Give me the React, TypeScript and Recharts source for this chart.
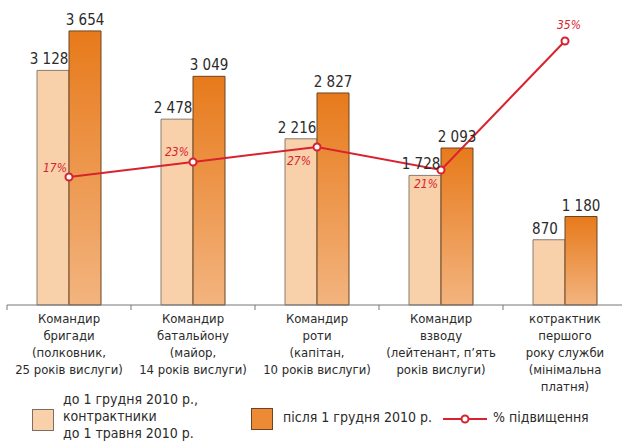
import React from 'react';
import { ComposedChart, Bar, Line, XAxis, YAxis, LabelList } from 'recharts';

const categories: string[][] = [
  ['Командир', 'бригади', '(полковник,', '25 років вислуги)'],
  ['Командир', 'батальйону', '(майор,', '14 років вислуги)'],
  ['Командир', 'роти', '(капітан,', '10 років вислуги)'],
  ['Командир', 'взводу', '(лейтенант, п’ять', 'років вислуги)'],
  ['котрактник', 'першого', 'року служби', '(мінімальна', 'платня)'],
];
const beforeValues = [3128, 2478, 2216, 1728, 870];
const afterValues = [3654, 3049, 2827, 2093, 1180];
const raisePct = [17, 23, 27, 21, 35];
// plotted height of the percentage line, in bar-axis units
const lineLevel = [1707, 1907, 2107, 1800, 3520];

const legendBefore = ['до 1 грудня 2010 р.,', 'контрактники', 'до 1 травня 2010 р.'];
const legendAfter = 'після 1 грудня 2010 р.';
const legendLine = '% підвищення';

const data = categories.map((c, i) => ({
  key: String(i),
  before: beforeValues[i],
  after: afterValues[i],
  level: lineLevel[i],
  pct: raisePct[i],
}));

const W = 622;
const H = 442;
const AXIS_H = 100;
const M = { top: 5, right: -5, left: 7, bottom: 442 - 305 - AXIS_H };
const HALF_BAND = (W - M.left - M.right) / categories.length / 2;
const FONT = '"Liberation Sans Narrow", "DejaVu Sans Condensed", "Roboto Condensed", Arial, sans-serif';
const TEXT = '#2b2b2b';
const RED = '#d8232f';

const fmt = (n: number) => String(n).replace(/\B(?=(\d{3})+(?!\d))/g, ' ');

const pctOffsets = [
  { dx: -14, dy: -5 },
  { dx: -16, dy: -6 },
  { dx: -18, dy: 18 },
  { dx: -15, dy: 18 },
  { dx: 4, dy: -12 },
];

const Tick = (props: any) => {
  const { x, y, payload, index } = props;
  const lines = categories[Number(payload.value)] || [];
  return (
    <g>
      <line x1={x - HALF_BAND} x2={x - HALF_BAND} y1={y - 8} y2={y - 3} stroke="#777" />
      {index === categories.length - 1 && (
        <line x1={x + HALF_BAND} x2={x + HALF_BAND} y1={y - 8} y2={y - 3} stroke="#777" />
      )}
      <text x={x} y={y} textAnchor="middle" fontFamily={FONT} fontSize={13} fill={TEXT}>
        {lines.map((l, i) => (
          <tspan key={i} x={x} dy={i === 0 ? 10 : 17}>
            {l}
          </tspan>
        ))}
      </text>
    </g>
  );
};

const valueLabel = (shift: number) => (props: any) => {
  const { x, y, width, value } = props;
  return (
    <text x={x + width / 2 + shift} y={y - 6} textAnchor="middle" fontFamily={FONT} fontSize={15} fill={TEXT}>
      {fmt(value)}
    </text>
  );
};

const PctLabel = (props: any) => {
  const { x, y, index, value } = props;
  const o = pctOffsets[index] || { dx: 0, dy: -8 };
  return (
    <text x={x + o.dx} y={y + o.dy} textAnchor="middle" fontFamily={FONT} fontSize={12} fontStyle="italic" fill={RED}>
      {value}%
    </text>
  );
};

const LegendBlock = () => (
  <div style={{ position: 'absolute', left: 0, top: 395, width: W, height: 47, fontFamily: FONT, fontSize: 14, color: TEXT }}>
    <div style={{ position: 'absolute', left: 32, top: 14, width: 22, height: 22, background: '#f8d0aa', border: '1px solid #7d6d62', boxSizing: 'border-box' }} />
    <div style={{ position: 'absolute', left: 63, top: -4, lineHeight: '17px', whiteSpace: 'nowrap' }}>
      {legendBefore.map((l, i) => (
        <div key={i}>{l}</div>
      ))}
    </div>
    <div style={{ position: 'absolute', left: 251, top: 13, width: 22, height: 22, background: '#ec8a35', border: '1px solid #6b4423', boxSizing: 'border-box' }} />
    <div style={{ position: 'absolute', left: 283, top: 14, lineHeight: '17px', whiteSpace: 'nowrap' }}>{legendAfter}</div>
    <svg style={{ position: 'absolute', left: 440, top: 14 }} width={50} height={20}>
      <line x1={3} x2={47} y1={10} y2={10} stroke={RED} strokeWidth={2} />
      <circle cx={25} cy={10} r={3.5} fill="#fff" stroke={RED} strokeWidth={2} />
    </svg>
    <div style={{ position: 'absolute', left: 493, top: 14, lineHeight: '17px', whiteSpace: 'nowrap' }}>{legendLine}</div>
  </div>
);

export default function App() {
  return (
    <div style={{ position: 'absolute', left: 0, top: 0, width: W, height: H, background: '#fff', overflow: 'hidden' }}>
      <ComposedChart width={W} height={H} data={data} margin={M} barGap={0} barSize={32}>
        <defs>
          <linearGradient id="afterGrad" x1="0" y1="0" x2="0" y2="1">
            <stop offset="0%" stopColor="#e77a1b" />
            <stop offset="100%" stopColor="#f3b47f" />
          </linearGradient>
        </defs>
        <XAxis
          dataKey="key"
          axisLine={{ stroke: '#777' }}
          tickLine={false}
          tick={<Tick />}
          interval={0}
          height={AXIS_H}
        />
        <YAxis hide domain={[0, 4000]} />
        <Bar dataKey="before" fill="#f8d0aa" stroke="#8a7a6f" strokeWidth={1} isAnimationActive={false}>
          <LabelList dataKey="before" content={valueLabel(-4)} />
        </Bar>
        <Bar dataKey="after" fill="url(#afterGrad)" stroke="#6b4423" strokeWidth={1} isAnimationActive={false}>
          <LabelList dataKey="after" content={valueLabel(0)} />
        </Bar>
        <Line
          dataKey="level"
          stroke={RED}
          strokeWidth={2}
          dot={{ r: 3.5, fill: '#fff', stroke: RED, strokeWidth: 2 }}
          isAnimationActive={false}
        >
          <LabelList dataKey="pct" content={<PctLabel />} />
        </Line>
      </ComposedChart>
      <LegendBlock />
    </div>
  );
}
